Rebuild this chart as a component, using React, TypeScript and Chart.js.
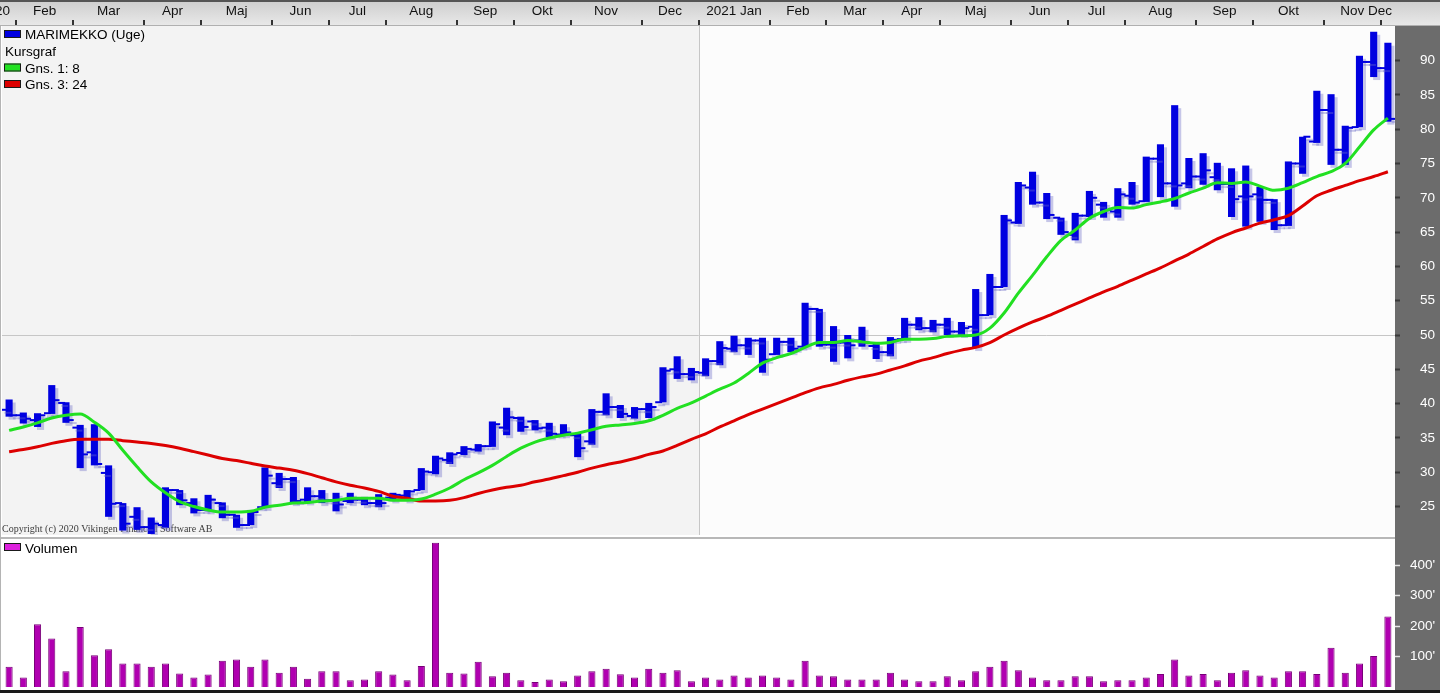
import React, { useEffect, useRef } from "react";
import Chart from "chart.js/auto";

const FONT = "'Liberation Sans', Arial, sans-serif";
const BLUE = "#0000e0";
const GREEN = "#22e022";
const RED = "#dc0000";
const AXIS_BG = "#6c6c6c";

// Weekly OHLC (MARIMEKKO, Uge)
const open = [39.1,38.3,37.6,38.6,40.1,36.5,32.9,29.9,25.5,23.5,22.0,22.3,27.4,25.5,24.5,25.5,23.8,22.3,24.9,28.4,29.0,26.0,26.5,25.9,25.8,26.0,25.5,26.3,26.6,27.4,30.0,31.8,32.8,33.3,33.8,36.5,37.9,37.4,36.5,35.5,35.4,34.5,38.8,39.5,38.2,39.2,40.2,45.0,44.3,44.5,46.2,48.0,48.5,49.2,47.2,49.0,48.3,53.8,48.6,48.9,49.2,48.4,47.5,49.4,51.5,51.0,51.5,50.5,51.2,52.9,57.0,66.4,71.5,69.3,67.1,64.6,67.4,69.0,68.0,70.3,69.5,75.7,72.1,72.1,73.1,73.0,72.0,70.2,70.5,69.7,66.0,75.0,78.2,82.8,77.0,80.3,89.8,88.9];
const high = [40.6,38.7,38.6,42.7,40.2,36.9,37.0,31.0,25.5,24.9,23.4,27.8,27.4,26.2,26.7,25.6,23.8,24.5,30.7,29.9,29.3,27.8,27.4,27.0,27.0,26.4,26.8,27.0,27.4,30.6,32.4,32.9,33.8,34.1,37.4,39.4,38.1,37.6,37.2,37.0,35.7,39.2,41.5,39.8,39.5,40.1,45.3,46.9,45.2,46.6,49.1,49.9,49.6,49.6,49.6,49.6,54.7,53.8,51.3,50.0,51.2,48.8,49.7,52.5,52.6,52.2,52.5,51.9,56.7,58.9,67.5,72.3,73.8,70.7,67.1,67.8,71.0,69.4,71.4,72.3,76.0,77.8,83.5,75.8,76.5,75.1,74.3,74.7,71.6,69.8,75.3,78.9,85.6,85.1,80.5,90.7,94.2,92.6];
const low = [38.1,37.1,36.6,38.5,37.2,30.6,31.0,23.5,21.5,21.6,21.0,21.9,25.2,24.0,24.3,23.3,21.9,22.3,24.8,27.7,25.5,25.6,25.5,24.3,25.5,25.2,24.9,25.9,25.9,27.4,29.7,31.2,32.5,33.0,33.7,35.4,35.9,36.1,35.1,35.4,32.2,34.0,38.3,37.9,37.8,37.9,40.2,43.6,43.4,44.0,45.6,47.5,47.1,44.5,47.1,47.5,48.3,48.3,46.1,46.6,48.3,46.5,46.9,49.3,50.7,50.4,50.0,50.0,48.1,52.9,57.0,66.2,69.0,66.9,64.6,63.8,67.2,67.1,67.1,69.0,69.4,70.1,68.7,71.4,71.9,71.1,67.2,65.8,66.5,65.3,65.9,73.5,78.0,74.8,74.8,80.3,87.6,81.1];
const close = [38.3,37.8,38.3,40.5,37.6,32.6,31.2,25.4,22.5,22.0,22.5,27.4,25.9,24.5,26.0,23.8,22.3,24.2,29.5,29.0,25.8,26.5,25.9,25.3,26.0,25.5,25.5,26.7,27.2,30.1,32.0,32.6,33.4,33.8,37.0,38.0,36.6,36.4,35.6,35.8,33.5,38.8,39.5,38.5,39.2,39.5,44.8,44.3,44.6,46.2,48.1,48.5,49.2,46.4,49.0,48.0,53.8,48.6,48.9,48.5,48.9,47.5,49.3,51.5,51.0,51.5,50.5,51.0,52.9,57.0,66.7,71.8,69.3,67.5,65.0,67.4,70.0,68.2,70.5,69.3,75.7,72.1,71.8,73.1,74.0,72.0,69.8,70.2,69.7,66.0,75.0,78.9,82.8,77.0,80.2,89.8,88.9,81.5];

// Moving averages (Gns. 1: 8 and Gns. 3: 24)
const ma8 = [36.1,36.6,37.2,37.9,38.3,38.5,37.3,35.7,33.2,30.8,28.6,27.0,25.7,25.0,24.5,24.2,24.2,24.3,24.9,25.2,25.5,25.6,25.8,25.9,26.2,26.2,26.2,25.9,25.9,26.1,26.8,27.7,28.9,29.9,31.0,32.3,33.5,34.4,35.0,35.4,35.7,36.2,36.7,36.9,37.1,37.5,38.3,39.3,40.1,41.1,42.1,43.0,44.4,45.9,46.7,47.3,48.2,48.9,48.9,49.2,49.0,48.8,48.9,49.4,49.4,49.5,49.8,49.9,50.0,51.0,53.2,56.1,58.7,61.4,63.8,65.3,67.0,68.0,68.6,68.5,69.0,69.4,69.9,70.7,71.4,72.2,72.1,72.3,71.7,71.1,71.4,72.2,73.1,73.8,75.0,77.4,79.9,81.6];
const ma24 = [33.0,33.3,33.7,34.2,34.6,34.8,34.8,34.8,34.6,34.4,34.2,33.9,33.5,33.0,32.5,32.0,31.7,31.3,30.9,30.6,30.3,29.8,29.2,28.6,28.1,27.7,27.2,26.5,26.2,25.8,25.8,25.9,26.3,26.9,27.4,27.8,28.1,28.6,29.0,29.5,30.0,30.6,31.1,31.5,32.0,32.6,33.1,33.9,34.8,35.6,36.6,37.5,38.4,39.2,40.0,40.8,41.6,42.3,42.8,43.4,43.9,44.3,44.9,45.5,46.2,46.7,47.3,47.8,48.2,48.9,50.0,51.0,51.9,52.7,53.6,54.5,55.4,56.3,57.1,58.0,58.9,59.8,60.8,61.8,62.9,64.0,64.9,65.6,66.3,66.8,67.4,68.8,70.3,71.1,71.8,72.5,73.1,73.8];

// Weekly volume (thousands)
const volume = [66,31,206,159,52,197,104,124,77,77,66,77,44,31,41,86,90,66,90,47,66,27,52,52,22,25,52,41,22,69,473,47,44,83,35,47,22,16,25,19,38,52,60,42,31,60,47,55,19,31,25,38,31,38,31,25,86,38,35,25,25,25,47,25,19,19,35,22,52,66,86,55,31,22,22,35,35,19,22,22,31,43,90,38,43,22,47,55,38,31,52,52,43,129,47,77,102,231];

// Top axis month labels and the week index at which each starts
const monthLabels = ["2020","Feb","Mar","Apr","Maj","Jun","Jul","Aug","Sep","Okt","Nov","Dec","2021 Jan","Feb","Mar","Apr","Maj","Jun","Jul","Aug","Sep","Okt","Nov","Dec"];
const monthStartWeek = [-4,1,5,10,14,19,23,27,32,36,40,45,49,54,58,62,66,71,75,79,84,88,93,97];
const yearBoundaryWeek = 49;
const priceTicks = [25,30,35,40,45,50,55,60,65,70,75,80,85,90];
const volumeTicks = [100,200,300,400];
const refLine = 50;

const weekIdx = close.map((_, i) => i);
const N = close.length;

const shadowPlugin = {
  id: "shadow",
  beforeDatasetDraw(chart: any, args: any) {
    const ds = chart.data.datasets[args.index];
    if (ds.shadow) {
      const ctx = chart.ctx;
      ctx.save();
      ctx.shadowColor = "rgba(110,110,200,0.38)";
      ctx.shadowOffsetX = 3;
      ctx.shadowOffsetY = 3;
      ctx.shadowBlur = 0;
    }
  },
  afterDatasetDraw(chart: any, args: any) {
    const ds = chart.data.datasets[args.index];
    if (ds.shadow) chart.ctx.restore();
  },
};

const priceDecor = {
  id: "priceDecor",
  beforeDraw(chart: any) {
    const { ctx, chartArea: ca, scales, width, height } = chart;
    const xs = scales.x;
    const ys = scales.y;
    ctx.save();
    ctx.fillStyle = "#ffffff";
    ctx.fillRect(0, 0, width, height);
    const yearX = Math.round(xs.getPixelForValue(yearBoundaryWeek - 0.5));
    ctx.fillStyle = "#f3f3f3";
    ctx.fillRect(ca.left, ca.top, yearX - ca.left, ca.bottom - ca.top);
    ctx.fillStyle = "#fcfcfc";
    ctx.fillRect(yearX, ca.top, ca.right - yearX, ca.bottom - ca.top);
    ctx.fillStyle = "#b4b4b4";
    ctx.fillRect(0, ca.top, 1, height - ca.top);
    ctx.fillStyle = AXIS_BG;
    ctx.fillRect(ca.right, ca.top, width - ca.right, height - ca.top);
    ctx.strokeStyle = "#c6c6c6";
    ctx.lineWidth = 1;
    const y50 = Math.round(ys.getPixelForValue(refLine)) + 0.5;
    ctx.beginPath();
    ctx.moveTo(ca.left, y50);
    ctx.lineTo(ca.right, y50);
    ctx.stroke();
    ctx.beginPath();
    ctx.moveTo(yearX + 0.5, ca.top);
    ctx.lineTo(yearX + 0.5, ca.bottom);
    ctx.stroke();
    const g = ctx.createLinearGradient(0, 0, 0, ca.top);
    g.addColorStop(0, "#cdcdcd");
    g.addColorStop(1, "#e9e9e9");
    ctx.fillStyle = g;
    ctx.fillRect(0, 0, width, ca.top);
    ctx.fillStyle = "#555555";
    ctx.fillRect(0, 0, width, 2);
    ctx.fillStyle = "#b0b0b0";
    ctx.fillRect(0, ca.top - 1, width, 1);
    ctx.fillStyle = "#333333";
    monthStartWeek.forEach((w) => {
      if (w <= 0) return;
      const x = Math.round(xs.getPixelForValue(w - 0.5));
      ctx.fillRect(x - 1, ca.top - 6, 2, 5);
    });
    ctx.font = `13.5px ${FONT}`;
    ctx.fillStyle = "#111111";
    ctx.textBaseline = "alphabetic";
    monthLabels.forEach((lab, i) => {
      const s = monthStartWeek[i];
      const e = i + 1 < monthStartWeek.length ? monthStartWeek[i + 1] : N;
      const tw = ctx.measureText(lab).width;
      let cx = (xs.getPixelForValue(s - 0.5) + xs.getPixelForValue(e - 0.5)) / 2;
      if (cx + tw / 2 > ca.right - 3) cx = ca.right - 3 - tw / 2;
      if (i === 0) {
        ctx.textAlign = "right";
        ctx.fillText(lab, 10, 15);
      } else {
        ctx.textAlign = "center";
        ctx.fillText(lab, cx, 15);
      }
    });
    ctx.restore();
  },
  beforeDatasetsDraw(chart: any) {
    const { ctx, chartArea: ca } = chart;
    ctx.save();
    ctx.font = "10px 'Liberation Serif', 'Times New Roman', serif";
    ctx.fillStyle = "#3c3c3c";
    ctx.textAlign = "left";
    ctx.textBaseline = "alphabetic";
    ctx.fillText("Copyright (c) 2020 Vikingen Financial Software AB", ca.left, ca.bottom - 3.5);
    ctx.restore();
  },
  afterDatasetsDraw(chart: any) {
    const { ctx } = chart;
    ctx.save();
    ctx.font = `13.5px ${FONT}`;
    ctx.fillStyle = "#000000";
    ctx.textAlign = "left";
    ctx.textBaseline = "alphabetic";
    const items: [string, string | null, number][] = [
      ["MARIMEKKO (Uge)", BLUE, 39],
      ["Kursgraf", null, 55.5],
      ["Gns. 1: 8", GREEN, 72.5],
      ["Gns. 3: 24", RED, 89],
    ];
    items.forEach(([t, c, b]) => {
      if (c) {
        ctx.fillStyle = c;
        ctx.fillRect(4, b - 9, 17, 8);
        ctx.strokeStyle = "#1a1a1a";
        ctx.lineWidth = 1;
        ctx.strokeRect(4.5, b - 8.5, 16, 7);
        ctx.fillStyle = "#000000";
        ctx.fillText(t, 25, b);
      } else {
        ctx.fillText(t, 5, b);
      }
    });
    ctx.restore();
  },
};

const volDecor = {
  id: "volDecor",
  beforeDraw(chart: any) {
    const { ctx, chartArea: ca, width, height } = chart;
    ctx.save();
    ctx.fillStyle = "#ffffff";
    ctx.fillRect(0, 0, width, height);
    ctx.fillStyle = AXIS_BG;
    ctx.fillRect(ca.right, 0, width - ca.right, height);
    ctx.fillStyle = "#b8b8b8";
    ctx.fillRect(0, 0, ca.right, 2);
    ctx.fillStyle = "#b4b4b4";
    ctx.fillRect(0, 0, 1, height);
    ctx.restore();
  },
  afterDraw(chart: any) {
    const { ctx, width, height } = chart;
    ctx.save();
    ctx.fillStyle = "#1a1a1a";
    ctx.fillRect(0, height - 3, width, 3);
    ctx.font = `13.5px ${FONT}`;
    ctx.fillStyle = "#dd22dd";
    ctx.fillRect(4, 6, 17, 8);
    ctx.strokeStyle = "#1a1a1a";
    ctx.lineWidth = 1;
    ctx.strokeRect(4.5, 6.5, 16, 7);
    ctx.fillStyle = "#000000";
    ctx.textBaseline = "alphabetic";
    ctx.fillText("Volumen", 25, 15.5);
    ctx.restore();
  },
};

const fitAxis = (s: any) => {
  s.width = 41;
  s.paddingTop = 0;
  s.paddingBottom = 0;
  s.paddingLeft = 0;
  s.paddingRight = 0;
};

export default function App() {
  const priceRef = useRef<HTMLCanvasElement>(null);
  const volRef = useRef<HTMLCanvasElement>(null);

  useEffect(() => {
    const price = new Chart(priceRef.current as HTMLCanvasElement, {
      type: "bar",
      data: {
        datasets: [
          {
            type: "line",
            label: "Gns. 1: 8",
            data: weekIdx.map((i) => ({ x: i, y: ma8[i] })),
            borderColor: GREEN,
            borderWidth: 3,
            pointRadius: 0,
            cubicInterpolationMode: "monotone",
            order: 0,
          } as any,
          {
            type: "line",
            label: "Gns. 3: 24",
            data: weekIdx.map((i) => ({ x: i, y: ma24[i] })),
            borderColor: RED,
            borderWidth: 3,
            pointRadius: 0,
            cubicInterpolationMode: "monotone",
            order: 1,
          } as any,
          {
            type: "line",
            label: "Open",
            data: weekIdx.map((i) => ({ x: i - 0.3, y: open[i] })),
            showLine: false,
            pointStyle: "line",
            pointRadius: 3.5,
            pointBorderWidth: 2,
            pointBorderColor: BLUE,
            pointBackgroundColor: BLUE,
            order: 2,
            shadow: true,
          } as any,
          {
            type: "line",
            label: "Close",
            data: weekIdx.map((i) => ({ x: i + 0.3, y: close[i] })),
            showLine: false,
            pointStyle: "line",
            pointRadius: 3.5,
            pointBorderWidth: 2,
            pointBorderColor: BLUE,
            pointBackgroundColor: BLUE,
            order: 2,
            shadow: true,
          } as any,
          {
            type: "bar",
            label: "MARIMEKKO (Uge)",
            data: weekIdx.map((i) => ({ x: i, y: [low[i], high[i]] })),
            backgroundColor: BLUE,
            borderWidth: 0,
            barPercentage: 0.5,
            categoryPercentage: 1,
            order: 3,
            shadow: true,
          } as any,
        ],
      },
      options: {
        responsive: false,
        animation: false,
        events: [],
        layout: { autoPadding: false, padding: { left: 2, right: 4, top: 26, bottom: 2 } },
        plugins: { legend: { display: false }, tooltip: { enabled: false } },
        scales: {
          x: { type: "linear", display: false, min: -0.5, max: N - 0.5, offset: false },
          y: {
            type: "linear",
            position: "right",
            min: 20.85,
            max: 95.04,
            afterBuildTicks: (s: any) => {
              s.ticks = priceTicks.map((v) => ({ value: v }));
            },
            afterFit: fitAxis,
            grid: { drawOnChartArea: false, drawTicks: true, tickLength: 5, tickColor: "#3a3a3a", tickWidth: 2 },
            border: { display: false },
            ticks: { color: "#ffffff", font: { family: FONT, size: 13.5 }, padding: 20, crossAlign: "near" },
          },
        },
      } as any,
      plugins: [priceDecor, shadowPlugin],
    });

    const vol = new Chart(volRef.current as HTMLCanvasElement, {
      type: "bar",
      data: {
        datasets: [
          {
            label: "Volumen",
            data: weekIdx.map((i) => ({ x: i, y: volume[i] })),
            backgroundColor: "#b000b0",
            borderColor: "#780078",
            borderWidth: 1,
            barPercentage: 0.5,
            categoryPercentage: 1,
          } as any,
        ],
      },
      options: {
        responsive: false,
        animation: false,
        events: [],
        layout: { autoPadding: false, padding: { left: 2, right: 4, top: 3, bottom: 6 } },
        plugins: { legend: { display: false }, tooltip: { enabled: false } },
        scales: {
          x: { type: "linear", display: false, min: -0.5, max: N - 0.5, offset: false },
          y: {
            type: "linear",
            position: "right",
            min: 0,
            max: 482,
            afterBuildTicks: (s: any) => {
              s.ticks = volumeTicks.map((v) => ({ value: v }));
            },
            afterFit: fitAxis,
            grid: { drawOnChartArea: false, drawTicks: true, tickLength: 5, tickColor: "#e6e6e6", tickWidth: 1.5 },
            border: { display: false },
            ticks: {
              color: "#ffffff",
              font: { family: FONT, size: 13.5 },
              padding: 10,
              crossAlign: "near",
              callback: (v: any) => `${v}'`,
            },
          },
        },
      } as any,
      plugins: [volDecor],
    });

    return () => {
      price.destroy();
      vol.destroy();
    };
  }, []);

  return (
    <div
      style={{
        position: "absolute",
        left: 0,
        top: 0,
        width: 1440,
        height: 693,
        background: "#ffffff",
        overflow: "hidden",
      }}
    >
      <canvas
        ref={priceRef}
        width={1440}
        height={537}
        style={{ position: "absolute", left: 0, top: 0, width: 1440, height: 537 }}
      />
      <canvas
        ref={volRef}
        width={1440}
        height={156}
        style={{ position: "absolute", left: 0, top: 537, width: 1440, height: 156 }}
      />
    </div>
  );
}
